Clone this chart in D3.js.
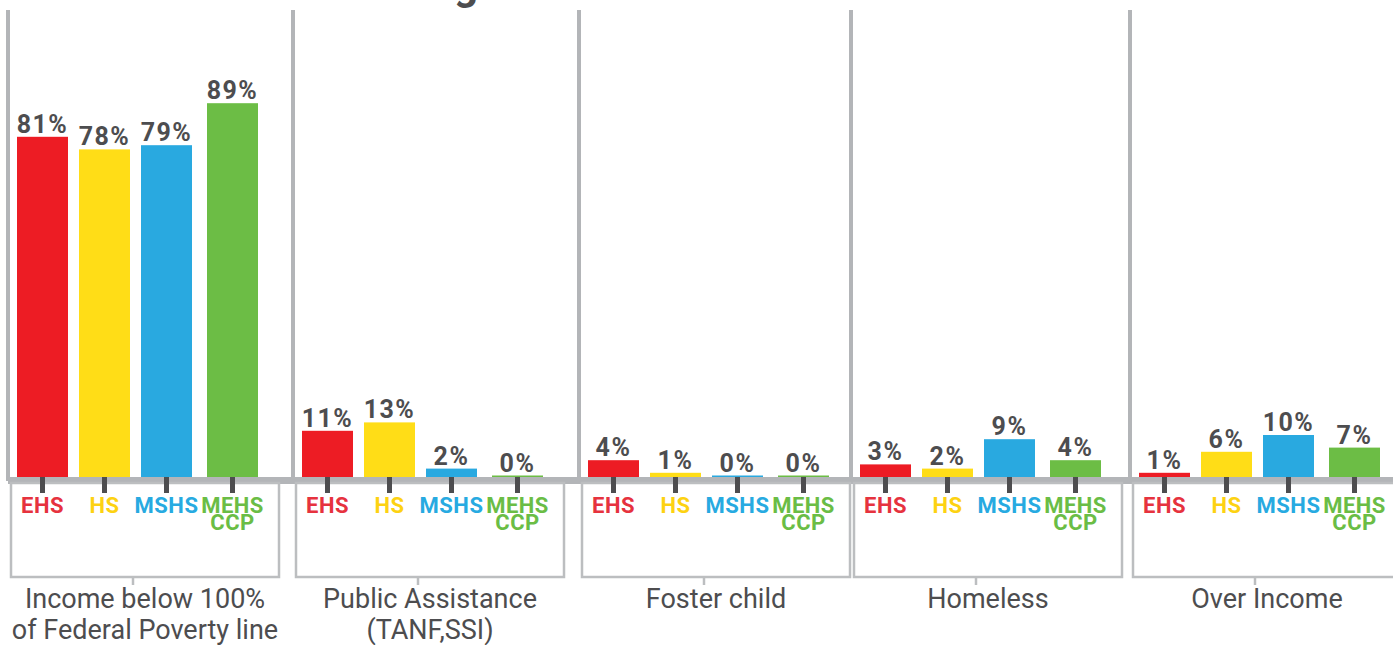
<!DOCTYPE html>
<meta charset="utf-8">
<style>
  body { margin: 0; background: #fff; }
  svg text { font-family: Roboto, "Noto Sans", sans-serif; }
</style>
<body>
<div class="chart"></div>
<script src="https://cdn.jsdelivr.net/npm/d3@7"></script>
<script>
  // data
  var categories = [
    ["Income below 100%", "of Federal Poverty line"],
    ["Public Assistance", "(TANF,SSI)"],
    ["Foster child"],
    ["Homeless"],
    ["Over Income"]
  ];
  var programs = ["EHS", "HS", "MSHS", "MEHS CCP"];
  var ehs  = [81, 11, 4, 3, 1];
  var hs   = [78, 13, 1, 2, 6];
  var mshs = [79, 2, 0, 9, 10];
  var mehs = [89, 0, 0, 4, 7];
  var title = "Head Start Funding";

  var series = [ehs, hs, mshs, mehs];
  var barColors  = ["#ed1c24", "#ffdd17", "#29a9e0", "#6cbd45"];
  var textColors = ["#e6323e", "#fdd212", "#27aae1", "#6abd45"];

  var width = 1393, height = 645,
      baseline = 477,
      barWidth = 51,
      grey = "#b3b5b8",
      dark = "#4d4d4f";

  var svg = d3.select(".chart").append("svg")
      .attr("width", width)
      .attr("height", height);

  // panels and bars are not evenly spaced in the original layout
  var panelX = d3.scaleOrdinal()
      .domain(d3.range(categories.length))
      .range([8, 293, 579, 851, 1130]);

  var barX = d3.scaleOrdinal()
      .domain(programs)
      .range([9, 71, 133, 199]);

  var y = d3.scaleLinear()
      .domain([0, 100])
      .range([baseline, baseline - 420]);

  // title, mostly off the top edge
  svg.append("text")
      .attr("x", 478)
      .attr("y", -1)
      .attr("text-anchor", "end")
      .attr("font-size", 42)
      .attr("font-weight", "bold")
      .attr("fill", dark)
      .text(title);

  // baseline band
  svg.append("rect")
      .attr("x", panelX(0))
      .attr("y", baseline)
      .attr("width", width - panelX(0))
      .attr("height", 7)
      .attr("fill", grey);

  var panels = svg.selectAll(".panel")
      .data(categories)
      .enter().append("g")
      .attr("class", "panel")
      .attr("transform", (d, i) => "translate(" + panelX(i) + ",0)");

  // left frame line
  panels.append("rect")
      .attr("x", -2)
      .attr("y", 10)
      .attr("width", 4)
      .attr("height", baseline - 10 + 4)
      .attr("fill", grey);

  // box under the labels
  panels.append("rect")
      .attr("x", 3)
      .attr("y", baseline + 6)
      .attr("width", 268)
      .attr("height", 94)
      .attr("fill", "none")
      .attr("stroke", "#bcbec0")
      .attr("stroke-width", 2.5);

  panels.append("line")
      .attr("x1", 125).attr("x2", 125)
      .attr("y1", baseline + 100).attr("y2", baseline + 108)
      .attr("stroke", "#bcbec0")
      .attr("stroke-width", 2.5);

  // category labels
  panels.append("text")
      .attr("x", 137)
      .attr("y", 608)
      .attr("text-anchor", "middle")
      .attr("font-size", 27)
      .attr("fill", dark)
      .selectAll("tspan")
      .data(d => d)
      .enter().append("tspan")
      .attr("x", 137)
      .attr("dy", (d, i) => i ? 31 : 0)
      .text(d => d);

  // bars, ticks, labels per program
  var cells = panels.selectAll(".cell")
      .data((d, i) => programs.map((p, j) => ({ program: p, j: j, value: series[j][i] })))
      .enter().append("g")
      .attr("class", "cell");

  var mid = d => barX(d.program) + barWidth / 2;

  cells.append("rect")
      .attr("x", d => mid(d) - 2.5)
      .attr("y", baseline)
      .attr("width", 5)
      .attr("height", 16)
      .attr("fill", dark);

  cells.append("rect")
      .attr("x", d => barX(d.program))
      .attr("y", d => Math.min(y(d.value), baseline - 1.5))
      .attr("width", barWidth)
      .attr("height", d => Math.max(baseline - y(d.value), 1.5))
      .attr("fill", d => barColors[d.j]);

  cells.append("text")
      .attr("x", mid)
      .attr("y", d => Math.min(y(d.value), baseline - 1.5) - 4)
      .attr("text-anchor", "middle")
      .attr("font-size", 25)
      .attr("font-weight", "bold")
      .attr("letter-spacing", 1.5)
      .attr("fill", dark)
      .text(d => d.value + "%");

  cells.append("text")
      .attr("x", mid)
      .attr("y", 513)
      .attr("text-anchor", "middle")
      .attr("font-size", 22)
      .attr("font-weight", "bold")
      .attr("letter-spacing", 0.5)
      .attr("fill", d => textColors[d.j])
      .selectAll("tspan")
      .data(d => d.program.split(" ").map(s => ({ s: s, x: mid(d) })))
      .enter().append("tspan")
      .attr("x", d => d.x)
      .attr("dy", (d, i) => i ? 17 : 0)
      .text(d => d.s);
</script>
</body>
